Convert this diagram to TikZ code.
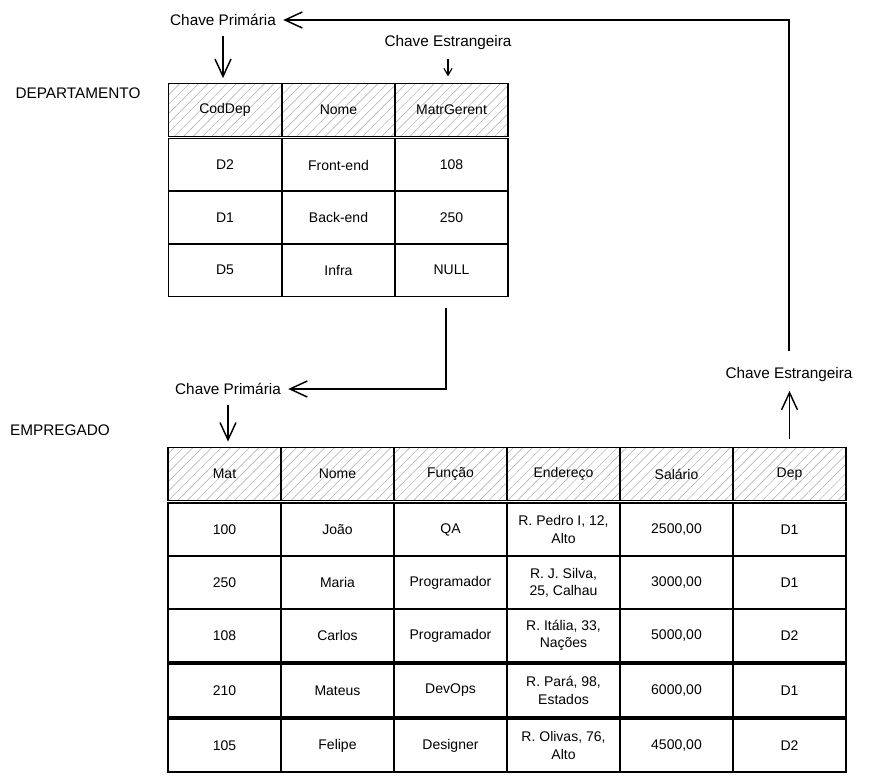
\documentclass[tikz,border=0pt]{standalone}
\usepackage{fontspec}
\setmainfont{Liberation Sans}
\usepackage{tikz}
\usetikzlibrary{arrows.meta, patterns.meta}

\begin{document}
\begin{tikzpicture}[x=0.75pt, y=-0.75pt]
\tikzstyle{cell}=[draw, line width=1.1pt, minimum width=85pt, minimum height=39.5pt, inner sep=1pt, align=center, font=\fontsize{10.5}{13}\selectfont]
\tikzstyle{hcell}=[cell, pattern={Lines[angle=45, distance=5pt, line width=0.35pt]}, pattern color=black!35]
\tikzstyle{lbl}=[font=\fontsize{11.5}{13}\selectfont]
\tikzstyle{bigarrow}=[line width=1.1pt, -{Straight Barb[length=13pt, width=12pt]}]
\tikzstyle{smallarrow}=[line width=0.9pt, -{Straight Barb[length=5pt, width=6pt]}]

\useasboundingbox (0,0) rectangle (871,782);

% DEPARTAMENTO
\node[lbl] (dlbl) at (78,93) {DEPARTAMENTO};
\foreach \c/\x/\t in {1/225/CodDep, 2/338.5/Nome, 3/451.5/MatrGerent}
   \node[hcell] (dh\c) at (\x,110) {\t};
\foreach \r/\y/\a/\b/\m in {1/165/D2/Front-end/108, 2/217.5/D1/Back-end/250, 3/270/D5/Infra/NULL}
{
   \node[cell] (d\r1) at (225,\y) {\a};
   \node[cell] (d\r2) at (338.5,\y) {\b};
   \node[cell] (d\r3) at (451.5,\y) {\m};
}

% EMPREGADO
\node[lbl] (elbl) at (60,430) {EMPREGADO};
\foreach \c/\x/\t in {1/224.5/Mat, 2/337.5/Nome, 3/450.5/Função, 4/563.5/Endereço, 5/676.5/Salário, 6/789.5/Dep}
   \node[hcell] (eh\c) at (\x,474) {\t};
\foreach \r/\y/\m/\n/\f/\e/\s/\d in {
   1/529.5/100/João/QA/{R. Pedro I, 12,\\ Alto}/{2500,00}/D1,
   2/582.5/250/Maria/Programador/{R. J. Silva,\\ 25, Calhau}/{3000,00}/D1,
   3/635.5/108/Carlos/Programador/{R. Itália, 33,\\ Nações}/{5000,00}/D2,
   4/690.5/210/Mateus/DevOps/{R. Pará, 98,\\ Estados}/{6000,00}/D1,
   5/745.5/105/Felipe/Designer/{R. Olivas, 76,\\ Alto}/{4500,00}/D2}
{
   \node[cell] (e\r1) at (224.5,\y) {\m};
   \node[cell] (e\r2) at (337.5,\y) {\n};
   \node[cell] (e\r3) at (450.5,\y) {\f};
   \node[cell] (e\r4) at (563.5,\y) {\e};
   \node[cell] (e\r5) at (676.5,\y) {\s};
   \node[cell] (e\r6) at (789.5,\y) {\d};
}

% chaves
\node[lbl] (cp1) at (223,20) {Chave Primária};
\node[lbl] (ce1) at (448,43) {Chave Estrangeira};
\node[lbl] (cp2) at (228,389) {Chave Primária};
\node[lbl] (ce2) at (789,375) {Chave Estrangeira};
\coordinate (dfk) at (446,308);

\draw[bigarrow, shorten <=4pt, shorten >=4pt] (cp1.south) -- (cp1.south |- dh1.north);
\draw[smallarrow, shorten <=3pt, shorten >=5pt] (ce1.south) -- (ce1.south |- dh3.north);
\draw[bigarrow, shorten >=2pt] (dfk) |- (cp2.east);
\draw[bigarrow, shorten <=4pt, shorten >=4pt] (cp2.south) -- (cp2.south |- eh1.north);
\draw[bigarrow, shorten <=6pt, shorten >=3pt] (eh6.north) -- (eh6.north |- ce2.south);
\draw[bigarrow, shorten <=9pt, shorten >=2pt] (ce2.north) |- (cp1.east);

\end{tikzpicture}
\end{document}
